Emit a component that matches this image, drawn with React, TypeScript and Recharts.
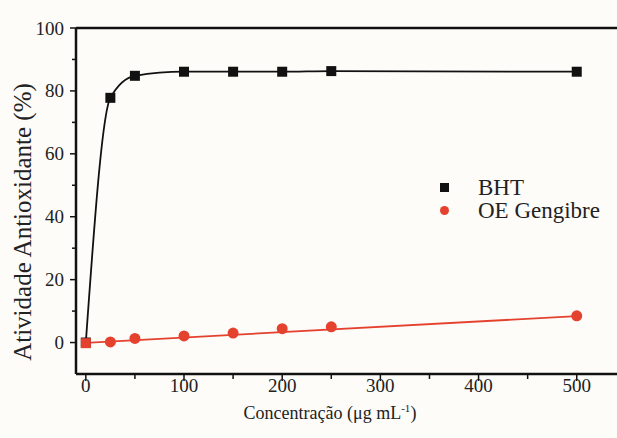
import { ComposedChart, Line, XAxis, YAxis, ReferenceLine, Legend } from "recharts";

const concentrations = [0, 25, 50, 100, 150, 200, 250, 500];
const bhtValues = [0, 77.8, 84.8, 86.1, 86.1, 86.1, 86.3, 86.1];
const oeValues = [-0.2, 0.2, 1.3, 2.1, 3.0, 4.4, 5.0, 8.5];
// linear fit line for OE Gengibre (end points)
const oeFitX = [0, 500];
const oeFitY = [-0.1, 8.4];

const xTicks = [0, 50, 100, 150, 200, 250, 300, 350, 400, 450, 500];
const yTicks = [-10, 0, 10, 20, 30, 40, 50, 60, 70, 80, 90, 100];

const FONT = "'Liberation Serif', 'Times New Roman', serif";
const RED = "#e5412f";

const bhtData = concentrations.map((x, i) => ({ x, y: bhtValues[i] }));
const oeData = concentrations.map((x, i) => ({ x, y: oeValues[i] }));
const fitData = oeFitX.map((x, i) => ({ x, y: oeFitY[i] }));

const XTick = (props: any) => {
  const { x, y, payload } = props;
  const major = payload.value % 100 === 0;
  return (
    <g>
      <line x1={x} x2={x} y1={y} y2={y + (major ? 7 : 5)} stroke="#111" strokeWidth={1.5} />
      {major && (
        <text x={x} y={y + 18} textAnchor="middle" fontFamily={FONT} fontSize={19} fill="#222">
          {payload.value}
        </text>
      )}
    </g>
  );
};

const YTick = (props: any) => {
  const { x, y, payload } = props;
  if (payload.value < 0) return <g />;
  const major = payload.value % 20 === 0;
  return (
    <g>
      <line x1={x} x2={x - (major ? 6 : 4)} y1={y} y2={y} stroke="#111" strokeWidth={1.5} />
      {major && (
        <text x={x - 12} y={y + 6.5} textAnchor="end" fontFamily={FONT} fontSize={19} fill="#222">
          {payload.value}
        </text>
      )}
    </g>
  );
};

const SquareDot = (props: any) => {
  const { cx, cy } = props;
  if (cx == null || cy == null) return <g />;
  return <rect x={cx - 5} y={cy - 5} width={10} height={10} fill="#111" />;
};

const OeDot = (props: any) => {
  const { cx, cy, payload } = props;
  if (cx == null || cy == null) return <g />;
  // first point is drawn as a red square over the BHT one
  if (payload && payload.x === 0) {
    return <rect x={cx - 5} y={cy - 5} width={10} height={10} fill={RED} />;
  }
  return <circle cx={cx} cy={cy} r={5.5} fill={RED} />;
};

const LegendBox = () => (
  <div style={{ fontFamily: FONT, fontSize: 23, color: "#222", lineHeight: "23px" }}>
    <div style={{ display: "flex", alignItems: "center", height: 23 }}>
      <span style={{ display: "inline-block", width: 9, height: 9, background: "#111", marginRight: 29 }} />
      BHT
    </div>
    <div style={{ display: "flex", alignItems: "center", height: 23 }}>
      <span style={{ display: "inline-block", width: 9, height: 9, borderRadius: 5, background: RED, marginRight: 29 }} />
      OE Gengibre
    </div>
  </div>
);

export default function App() {
  return (
    <div style={{ position: "absolute", left: 0, top: 0, width: 617, height: 438, background: "#fdfcf9" }}>
      <ComposedChart width={617} height={438} margin={{ top: 28, right: 0, bottom: 0, left: 0 }}>
        <XAxis
          type="number"
          dataKey="x"
          domain={[-10, 541]}
          ticks={xTicks}
          tick={<XTick />}
          tickLine={false}
          tickSize={0}
          tickMargin={0}
          height={64}
          axisLine={{ stroke: "#111", strokeWidth: 2.5 }}
          allowDataOverflow
          label={{
            content: () => (
              <text x={330} y={419} textAnchor="middle" fontFamily={FONT} fontSize={18} fill="#222">
                Concentração (μg mL
                <tspan dy={-7} fontSize={11}>-1</tspan>
                <tspan dy={7}>)</tspan>
              </text>
            ),
          }}
        />
        <YAxis
          type="number"
          dataKey="y"
          domain={[-10, 100]}
          ticks={yTicks}
          tick={<YTick />}
          tickLine={false}
          tickSize={0}
          tickMargin={0}
          width={76}
          axisLine={{ stroke: "#111", strokeWidth: 2.5 }}
          label={{
            content: () => (
              <text
                x={31}
                y={222}
                transform="rotate(-90 31 222)"
                textAnchor="middle"
                fontFamily={FONT}
                fontSize={25}
                fill="#222"
              >
                Atividade Antioxidante (%)
              </text>
            ),
          }}
        />
        <ReferenceLine y={100} stroke="#111" strokeWidth={2.5} />
        <Line
          data={bhtData}
          dataKey="y"
          type="monotone"
          stroke="#111"
          strokeWidth={1.8}
          dot={<SquareDot />}
          isAnimationActive={false}
          legendType="none"
        />
        <Line
          data={fitData}
          dataKey="y"
          type="linear"
          stroke={RED}
          strokeWidth={1.8}
          dot={false}
          isAnimationActive={false}
          legendType="none"
        />
        <Line
          data={oeData}
          dataKey="y"
          stroke="none"
          dot={<OeDot />}
          isAnimationActive={false}
          legendType="none"
        />
        <Legend
          content={<LegendBox />}
          layout="vertical"
          verticalAlign="middle"
          align="center"
          wrapperStyle={{ left: 440, top: 176, width: 180 }}
        />
      </ComposedChart>
    </div>
  );
}
